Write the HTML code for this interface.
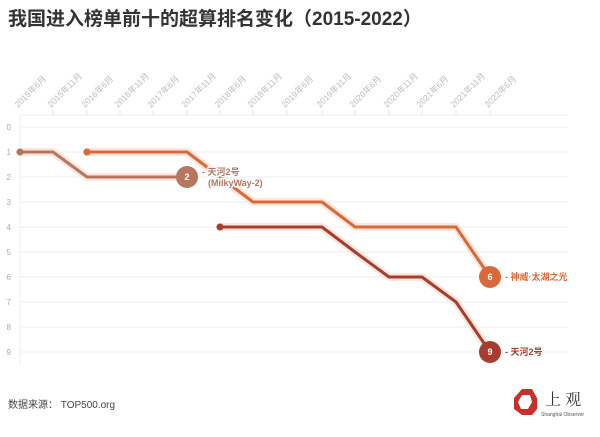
<!DOCTYPE html>
<html><head><meta charset="utf-8"><style>
body{margin:0;background:#fff;width:600px;height:432px;overflow:hidden;font-family:"Liberation Sans","Noto Sans CJK SC",sans-serif}
</style></head><body>
<svg width="600" height="432" xmlns="http://www.w3.org/2000/svg" font-family="Liberation Sans, Noto Sans CJK SC, sans-serif">
<text x="8" y="25" font-size="19" font-weight="bold" fill="#333">我国进入榜单前十的超算排名变化（2015-2022）</text>
<g stroke="#eee" stroke-width="1">
<line x1="20" y1="115" x2="568" y2="115"/>
<line x1="20" y1="127" x2="568" y2="127"/><line x1="20" y1="152" x2="568" y2="152"/><line x1="20" y1="177" x2="568" y2="177"/><line x1="20" y1="202" x2="568" y2="202"/><line x1="20" y1="227" x2="568" y2="227"/><line x1="20" y1="252" x2="568" y2="252"/><line x1="20" y1="277" x2="568" y2="277"/><line x1="20" y1="302" x2="568" y2="302"/><line x1="20" y1="327" x2="568" y2="327"/><line x1="20" y1="352" x2="568" y2="352"/>
<line x1="20" y1="115" x2="20" y2="365"/>
</g>
<g stroke="#e4e4e4" stroke-width="1">
<line x1="53" y1="110" x2="53" y2="115"/><line x1="87" y1="110" x2="87" y2="115"/><line x1="120" y1="110" x2="120" y2="115"/><line x1="153" y1="110" x2="153" y2="115"/><line x1="187" y1="110" x2="187" y2="115"/><line x1="220" y1="110" x2="220" y2="115"/><line x1="253" y1="110" x2="253" y2="115"/><line x1="287" y1="110" x2="287" y2="115"/><line x1="322" y1="110" x2="322" y2="115"/><line x1="355" y1="110" x2="355" y2="115"/><line x1="389" y1="110" x2="389" y2="115"/><line x1="422" y1="110" x2="422" y2="115"/><line x1="456" y1="110" x2="456" y2="115"/><line x1="490" y1="110" x2="490" y2="115"/>
</g>
<g font-size="8" fill="#aaa" text-anchor="end">
<text x="11" y="130">0</text><text x="11" y="155">1</text><text x="11" y="180">2</text><text x="11" y="205">3</text><text x="11" y="230">4</text><text x="11" y="255">5</text><text x="11" y="280">6</text><text x="11" y="305">7</text><text x="11" y="330">8</text><text x="11" y="355">9</text>
</g>
<g font-size="8.5" fill="#bbb">
<text transform="translate(18,108) rotate(-45)">2015年6月</text>
<text transform="translate(51,108) rotate(-45)">2015年11月</text>
<text transform="translate(85,108) rotate(-45)">2016年6月</text>
<text transform="translate(118,108) rotate(-45)">2016年11月</text>
<text transform="translate(151,108) rotate(-45)">2017年6月</text>
<text transform="translate(185,108) rotate(-45)">2017年11月</text>
<text transform="translate(218,108) rotate(-45)">2018年6月</text>
<text transform="translate(251,108) rotate(-45)">2018年11月</text>
<text transform="translate(285,108) rotate(-45)">2019年6月</text>
<text transform="translate(320,108) rotate(-45)">2019年11月</text>
<text transform="translate(353,108) rotate(-45)">2020年6月</text>
<text transform="translate(387,108) rotate(-45)">2020年11月</text>
<text transform="translate(420,108) rotate(-45)">2021年6月</text>
<text transform="translate(454,108) rotate(-45)">2021年11月</text>
<text transform="translate(488,108) rotate(-45)">2022年6月</text>
</g>
<g fill="none" stroke-linejoin="round" stroke-linecap="round">
<g stroke="#fde6de" stroke-width="8">
<polyline points="20,152 53,152 87,177 187,177"/>
<polyline points="87,152 187,152 253,202 322,202 355,227 456,227 490,277"/>
<polyline points="220,227 322,227 355,252 389,277 422,277 456,302 490,352"/>
</g>
<polyline points="20,152 53,152 87,177 187,177" stroke="#b5775f" stroke-width="3"/>
<polyline points="87,152 187,152 253,202 322,202 355,227 456,227 490,277" stroke="#d9693a" stroke-width="3"/>
<polyline points="220,227 322,227 355,252 389,277 422,277 456,302 490,352" stroke="#a63d2f" stroke-width="3"/>
</g>
<circle cx="20" cy="152" r="3.5" fill="#b5775f"/>
<circle cx="87" cy="152" r="3.5" fill="#d9693a"/>
<circle cx="220" cy="227" r="3.5" fill="#a63d2f"/>
<circle cx="187" cy="177" r="11" fill="#b5775f"/>
<circle cx="490" cy="277" r="11" fill="#d9693a"/>
<circle cx="490" cy="352" r="11" fill="#a63d2f"/>
<g font-size="9" font-weight="bold" fill="#fff" text-anchor="middle">
<text x="187" y="180">2</text><text x="490" y="280">6</text><text x="490" y="355">9</text>
</g>
<g font-size="9" font-weight="bold" stroke="#fff" stroke-width="3" paint-order="stroke" stroke-linejoin="round">
<text x="202" y="175" fill="#b5775f">- 天河2号</text>
<text x="208" y="186" fill="#b5775f">(MilkyWay-2)</text>
<text x="505" y="280" fill="#d9693a">- 神威·太湖之光</text>
<text x="505" y="355" fill="#a63d2f">- 天河2号</text>
</g>
<text x="8" y="408" font-size="10" fill="#444">数据来源：  TOP500.org</text>
<polygon points="522,389 532,389 537,398 537,409 532,415 522,415 514,409 514,398" fill="#c9302c"/>
<polygon points="522,395 530,395 532,402 528,409 521,409 518,402" fill="#fff"/>
<text x="545" y="405" font-size="16" fill="#333" font-family="Noto Serif CJK SC, serif">上 观</text>
<text x="541" y="416" font-size="5" fill="#555">Shanghai Observer</text>
</svg>
</body></html>
